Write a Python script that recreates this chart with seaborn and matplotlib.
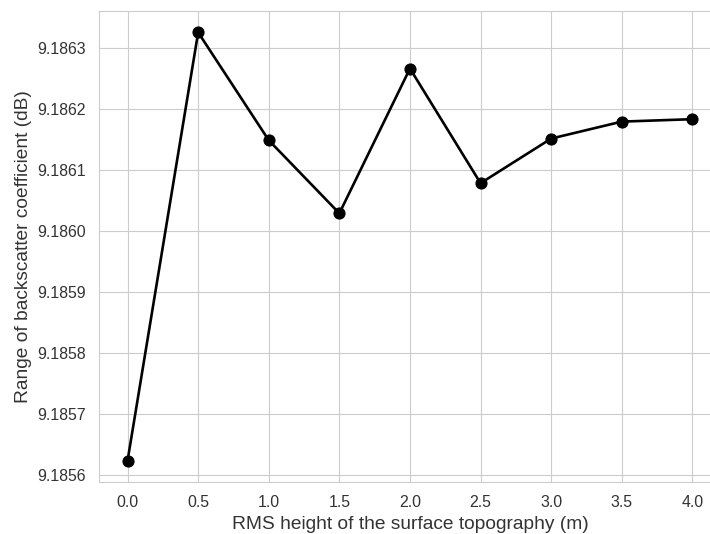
import numpy as np
import pandas as pd
import seaborn as sns
import matplotlib.pyplot as plt

# RMS height of the surface (m) and the range of backscatter coefficient (dB)
rms_height = [0.0, 0.5, 1.0, 1.5, 2.0, 2.5, 3.0, 3.5, 4.0]
backscatter_range = [9.1856235, 9.1863252, 9.1861484, 9.1860287, 9.1862660,
                     9.1860781, 9.1861512, 9.1861790, 9.1861830]

df = pd.DataFrame({'rms': rms_height, 'range': backscatter_range})

sns.set_style('whitegrid')
plt.rcParams['font.family'] = ['Liberation Sans', 'DejaVu Sans']

fig, ax = plt.subplots(figsize=(7.1, 5.34), dpi=100)
sns.lineplot(x='rms', y='range', data=df, marker='o', color='black',
             linewidth=1.9, markersize=8, markeredgecolor='black', ax=ax)
ax.ticklabel_format(axis='y', useOffset=False)
ax.set_xticks(rms_height)
ax.tick_params(labelsize=11.4, colors='#333333', pad=6)
ax.set_xlabel('RMS height of the surface topography (m)', fontsize=13.8, color='#333333')
ax.set_ylabel('Range of backscatter coefficient (dB)', fontsize=13.8, color='#333333')

# the original figure is cut on the right, past the 4.0 gridline
ax.set_position([0.1399, 0.0974, 0.875, 0.882])
plt.savefig('out.png', dpi=100)
